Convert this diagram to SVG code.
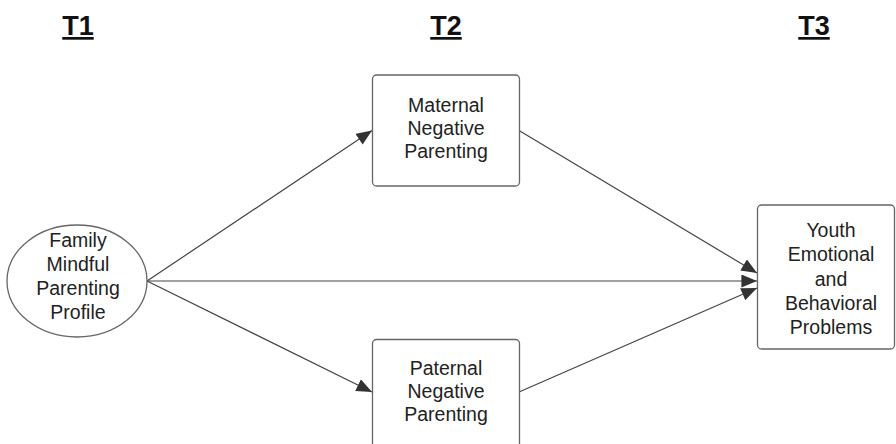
<svg xmlns="http://www.w3.org/2000/svg" width="896" height="444" viewBox="0 0 896 444">
<style>
.node{fill:#fff;stroke:#666;stroke-width:1.3}
.lbl{font-family:"Liberation Sans",Arial,sans-serif;font-size:19.5px;fill:#222;text-anchor:middle}
.hdr{font-family:"Liberation Sans",Arial,sans-serif;font-size:27px;font-weight:bold;fill:#111;text-anchor:middle;text-decoration:underline}
.edge{stroke:#444;stroke-width:1.2;fill:none;marker-end:url(#ah)}
</style>
<defs>
<marker id="ah" viewBox="0 0 12 10" refX="12" refY="5" markerWidth="16" markerHeight="13" markerUnits="userSpaceOnUse" orient="auto">
<path d="M0,0 L12,5 L0,10 z" fill="#333"/>
</marker>
</defs>
<rect width="896" height="444" fill="#fff"/>
<g id="headers">
<text class="hdr" x="78" y="35">T1</text>
<text class="hdr" x="446" y="35">T2</text>
<text class="hdr" x="814" y="35">T3</text>
</g>
<g id="connectors">
<line class="edge" x1="147" y1="281" x2="372" y2="130.5"/>
<line class="edge" x1="147" y1="281" x2="372" y2="392"/>
<line class="edge" x1="147" y1="281" x2="757" y2="281"/>
<line class="edge" x1="519" y1="130.5" x2="757" y2="273"/>
<line class="edge" x1="519" y1="392" x2="757" y2="288"/>
</g>
<g id="family">
<ellipse class="node" cx="77" cy="281" rx="70" ry="56"/>
<text class="lbl" x="78" y="247">Family</text>
<text class="lbl" x="78" y="271">Mindful</text>
<text class="lbl" x="78" y="295">Parenting</text>
<text class="lbl" x="78" y="319">Profile</text>
</g>
<g id="maternal">
<rect class="node" x="372.5" y="75" width="147" height="111" rx="4"/>
<text class="lbl" x="446" y="112">Maternal</text>
<text class="lbl" x="446" y="135">Negative</text>
<text class="lbl" x="446" y="158">Parenting</text>
</g>
<g id="paternal">
<rect class="node" x="372.5" y="339.5" width="147" height="111" rx="4"/>
<text class="lbl" x="446" y="375">Paternal</text>
<text class="lbl" x="446" y="398">Negative</text>
<text class="lbl" x="446" y="421">Parenting</text>
</g>
<g id="youth">
<rect class="node" x="757.5" y="205" width="137" height="144" rx="4"/>
<text class="lbl" x="831" y="237">Youth</text>
<text class="lbl" x="831" y="261">Emotional</text>
<text class="lbl" x="831" y="286">and</text>
<text class="lbl" x="831" y="310">Behavioral</text>
<text class="lbl" x="831" y="334">Problems</text>
</g>
</svg>
